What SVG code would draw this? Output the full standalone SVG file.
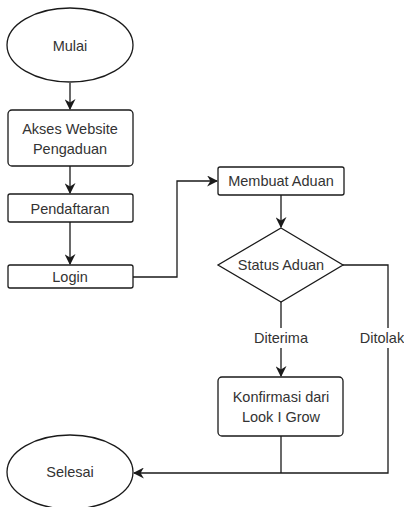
<svg xmlns="http://www.w3.org/2000/svg" width="404" height="507" viewBox="0 0 404 507">
  <style>
    .shape { fill: #ffffff; stroke: #1a1a1a; stroke-width: 1.3; }
    .edge { fill: none; stroke: #1a1a1a; stroke-width: 1.3; }
    .label { font-family: "Liberation Sans", Arial, sans-serif; font-size: 14.5px; fill: #333333; text-anchor: middle; dominant-baseline: central; }
  </style>
  <defs>
    <marker id="arrow" viewBox="0 0 10 10" refX="9" refY="5" markerWidth="11" markerHeight="11" markerUnits="userSpaceOnUse" orient="auto">
      <path d="M0,0 L10,5 L0,10 L3,5 Z" fill="#1a1a1a"/>
    </marker>
  </defs>
  <rect width="404" height="507" fill="#ffffff"/>

  <g id="connectors">
    <path class="edge" d="M70,83 V109" marker-end="url(#arrow)"/>
    <path class="edge" d="M70,166 V193" marker-end="url(#arrow)"/>
    <path class="edge" d="M70,222 V264" marker-end="url(#arrow)"/>
    <path class="edge" d="M133,277 H177 V181 H217" marker-end="url(#arrow)"/>
    <path class="edge" d="M281,195 V227" marker-end="url(#arrow)"/>
    <path class="edge" d="M281,302 V376" marker-end="url(#arrow)"/>
    <path class="edge" d="M343,265 H388 V473 H134" marker-end="url(#arrow)"/>
    <path class="edge" d="M281,436 V473"/>
    <rect x="246" y="328" width="70" height="20" fill="#ffffff"/>
    <rect x="358" y="328" width="46" height="20" fill="#ffffff"/>
    <text class="label" x="281" y="338">Diterima</text>
    <text class="label" x="382" y="338">Ditolak</text>
  </g>

  <g id="mulai">
    <ellipse class="shape" cx="70" cy="45" rx="63" ry="37"/>
    <text class="label" x="70" y="46">Mulai</text>
  </g>

  <g id="akses-website">
    <rect class="shape" x="8" y="110" width="125" height="56" rx="4"/>
    <text class="label" x="70" y="129">Akses Website</text>
    <text class="label" x="70" y="149">Pengaduan</text>
  </g>

  <g id="pendaftaran">
    <rect class="shape" x="8" y="194" width="125" height="28" rx="2"/>
    <text class="label" x="70" y="209">Pendaftaran</text>
  </g>

  <g id="login">
    <rect class="shape" x="8" y="265" width="125" height="23" rx="2"/>
    <text class="label" x="70" y="277">Login</text>
  </g>

  <g id="membuat-aduan">
    <rect class="shape" x="218" y="167" width="126" height="28" rx="2"/>
    <text class="label" x="281" y="181">Membuat Aduan</text>
  </g>

  <g id="status-aduan">
    <polygon class="shape" points="281,228 343,265 281,302 218,265"/>
    <text class="label" x="281" y="265">Status Aduan</text>
  </g>

  <g id="konfirmasi">
    <rect class="shape" x="218" y="377" width="125" height="59" rx="4"/>
    <text class="label" x="281" y="397">Konfirmasi dari</text>
    <text class="label" x="281" y="417">Look I Grow</text>
  </g>

  <g id="selesai">
    <ellipse class="shape" cx="70" cy="472" rx="63" ry="37"/>
    <text class="label" x="70" y="472">Selesai</text>
  </g>
</svg>
